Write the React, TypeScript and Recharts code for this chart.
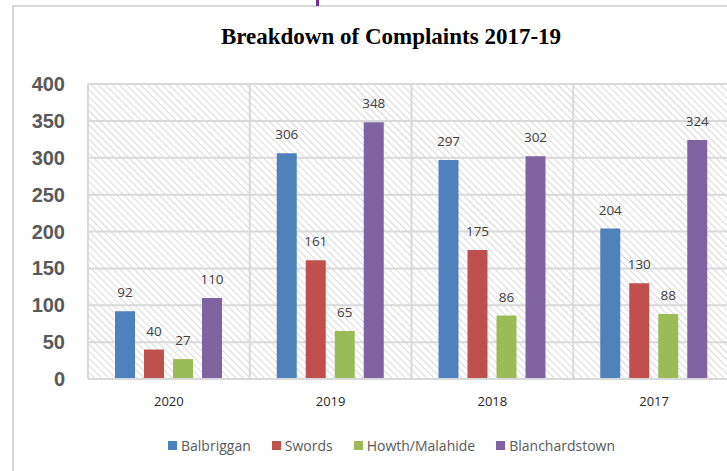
import { BarChart, Bar, XAxis, YAxis, CartesianGrid, LabelList } from "recharts"

const years = ["2020", "2019", "2018", "2017"]
const balbriggan = [92, 306, 297, 204]
const swords = [40, 161, 175, 130]
const howthMalahide = [27, 65, 86, 88]
const blanchardstown = [110, 348, 302, 324]
const yTicks = [0, 50, 100, 150, 200, 250, 300, 350, 400]

const series = [
  { key: "Balbriggan", values: balbriggan, color: "#4f81bd" },
  { key: "Swords", values: swords, color: "#c0504d" },
  { key: "Howth/Malahide", values: howthMalahide, color: "#9bbb59" },
  { key: "Blanchardstown", values: blanchardstown, color: "#8064a2" },
]

const data = years.map((year, i) => {
  const row: Record<string, string | number> = { year }
  series.forEach((s) => {
    row[s.key] = s.values[i]
  })
  return row
})

const labelFont = "'Open Sans', 'Liberation Sans', sans-serif"

function ChartLegend() {
  return (
    <div
      style={{
        position: "absolute",
        left: 168,
        top: 436,
        display: "flex",
        gap: 21,
        fontFamily: labelFont,
        fontSize: 14,
        color: "#595959",
        whiteSpace: "nowrap",
      }}
    >
      {series.map((s) => (
        <div key={s.key} style={{ display: "flex", alignItems: "center" }}>
          <span style={{ width: 9, height: 9, background: s.color, marginRight: 4, display: "inline-block" }} />
          {s.key}
        </div>
      ))}
    </div>
  )
}

export default function App() {
  return (
    <div style={{ position: "absolute", left: 0, top: 0, width: 727, height: 471, overflow: "hidden", background: "#fff" }}>
      <div style={{ position: "absolute", left: 12, top: 5, width: 730, height: 480, border: "2px solid #d9d9d9", boxSizing: "border-box" }} />
      <div style={{ position: "absolute", left: 316, top: 0, width: 3, height: 6, background: "#7030a0" }} />
      <div
        style={{
          position: "absolute",
          left: 0,
          top: 24,
          width: 782,
          textAlign: "center",
          fontFamily: "'Liberation Serif', serif",
          fontWeight: "bold",
          fontSize: 23,
          color: "#000",
        }}
      >
        Breakdown of Complaints 2017-19
      </div>
      <div style={{ position: "absolute", left: 0, top: 0 }}>
        <BarChart
          width={745}
          height={471}
          data={data}
          margin={{ top: 84, right: 10, left: 0, bottom: 42 }}
          barGap={9}
          barSize={20}
        >
          <defs>
            <pattern id="hatch" width="5" height="5" patternUnits="userSpaceOnUse" patternTransform="rotate(45)">
              <rect width="5" height="5" fill="#ffffff" />
              <line x1="0" y1="0" x2="5" y2="0" stroke="#dadada" strokeWidth="2" />
            </pattern>
          </defs>
          <CartesianGrid
            fill="url(#hatch)"
            stroke="#d9d9d9"
            strokeWidth={2}
            verticalCoordinatesGenerator={({ offset }: any) =>
              years.map((_, i) => offset.left + (i * offset.width) / years.length).concat([offset.left + offset.width])
            }
          />
          <XAxis
            dataKey="year"
            axisLine={{ stroke: "#d9d9d9", strokeWidth: 2 }}
            tickLine={false}
            height={50}
            tickMargin={12}
            tick={{ fill: "#262626", fontSize: 13, fontFamily: labelFont }}
          />
          <YAxis
            domain={[0, 400]}
            ticks={yTicks}
            width={88}
            axisLine={false}
            tickLine={false}
            tickSize={0}
            tickMargin={23}
            tick={{ fill: "#595959", fontSize: 20, fontWeight: "bold", fontFamily: "'Liberation Sans', Arial, sans-serif" }}
          />
          {series.map((s) => (
            <Bar key={s.key} dataKey={s.key} fill={s.color} isAnimationActive={false}>
              <LabelList
                dataKey={s.key}
                position="top"
                offset={14}
                fill="#404040"
                fontSize={13.5}
                fontFamily={labelFont}
              />
            </Bar>
          ))}
        </BarChart>
      </div>
      <ChartLegend />
    </div>
  )
}
